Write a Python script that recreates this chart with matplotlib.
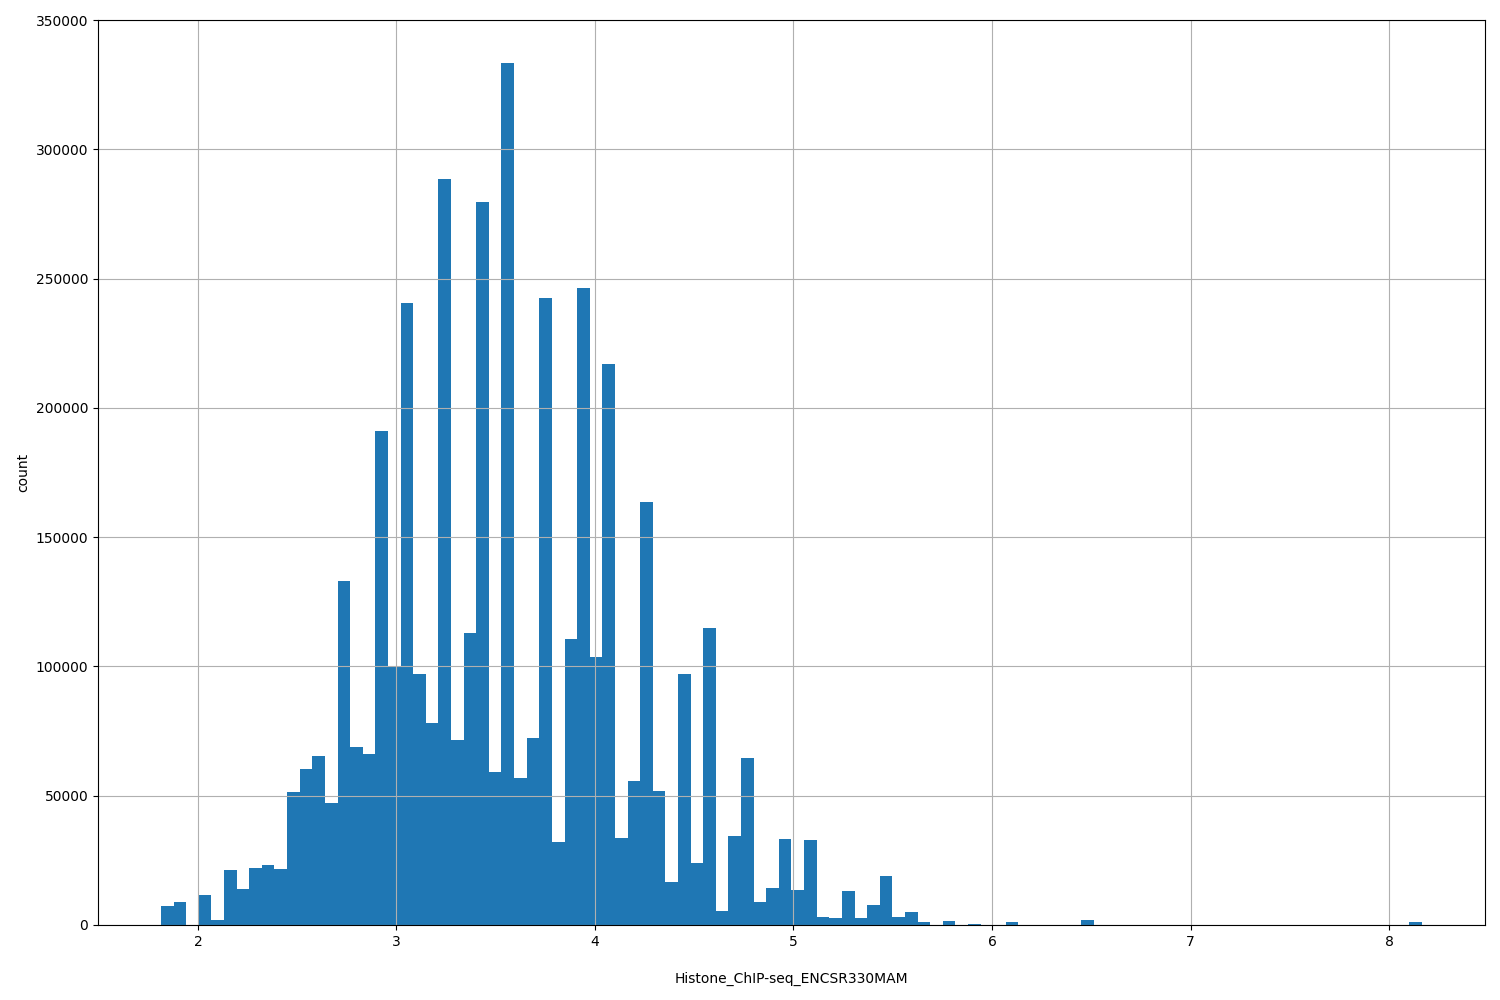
import numpy as np
import matplotlib
matplotlib.use("Agg")
import matplotlib.pyplot as plt

# histogram of the signal values, 100 equal bins
data_min = 1.8136
data_max = 8.166
n_bins = 100

counts = [
    7400, 8900, 0, 11600, 1900, 21300, 13900, 22000, 23200, 21700,
    51500, 60500, 65500, 47000, 133000, 69000, 66000, 191000, 100000, 240500,
    97000, 78000, 288500, 71500, 113000, 279500, 59000, 333500, 57000, 72500,
    242500, 32000, 110500, 246500, 103500, 217000, 33500, 55500, 163500, 52000,
    16500, 97000, 24000, 115000, 5400, 34400, 64500, 8900, 14300, 33300,
    13500, 32900, 3100, 2700, 13100, 2700, 7700, 18900, 3100, 5000,
    1200, 0, 1500, 0, 500, 0, 0, 1200, 0, 0,
    0, 0, 0, 2000, 0, 0, 0, 0, 0, 0,
    0, 0, 0, 0, 0, 0, 0, 0, 0, 0,
    0, 0, 0, 0, 0, 0, 0, 0, 0, 1200,
]

x_label = "Histone_ChIP-seq_ENCSR330MAM"
y_label = "count"

edges = np.linspace(data_min, data_max, n_bins + 1)
centers = (edges[:-1] + edges[1:]) / 2

fig, ax = plt.subplots(figsize=(15, 10), dpi=100)
ax.hist(centers, bins=edges, weights=counts, color="#1f77b4")
ax.grid(True)
ax.set_xlabel(x_label, labelpad=17)
ax.set_ylabel(y_label)
ax.set_ylim(0, 350000)

plt.subplots_adjust(left=0.0653, right=0.99, top=0.98, bottom=0.075)
fig.savefig("out.png")
